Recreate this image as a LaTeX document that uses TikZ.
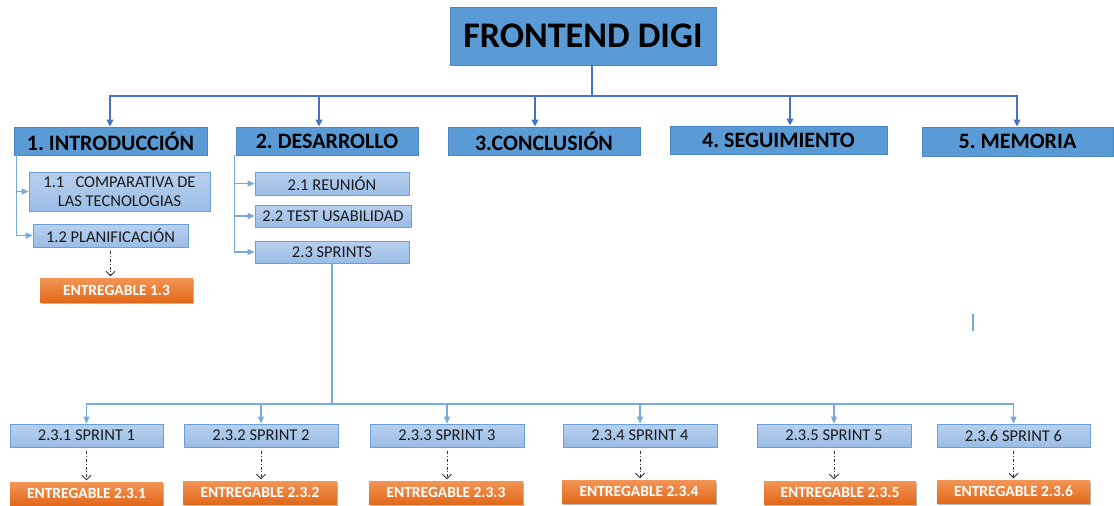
\documentclass[tikz,border=0pt]{standalone}
\usepackage{fontspec}
\setmainfont{Carlito}
\usetikzlibrary{arrows.meta,shadows}
\frenchspacing

\definecolor{headfill}{HTML}{5B9BD5}
\definecolor{headedge}{HTML}{4A86C5}
\definecolor{subtop}{HTML}{B8D0EE}
\definecolor{subbot}{HTML}{9ABDE6}
\definecolor{subedge}{HTML}{6A9FDB}
\definecolor{deltop}{HTML}{F29556}
\definecolor{delbot}{HTML}{E2691A}
\definecolor{trunkcol}{HTML}{4472C4}
\definecolor{branchcol}{HTML}{78AADF}
\definecolor{textdark}{HTML}{1A1A1A}

% box from corner (x1,y1) to corner (x2,y2), in pixel-like units
\newcommand\hdbox[7]{%
  \node[#1,minimum width={#5pt-#3pt},minimum height={#6pt-#4pt}]
    (#2) at ({(#3+#5)/2},{(#4+#6)/2}) {#7};}

\begin{document}
\begin{tikzpicture}[x=1pt,y=-1pt,
  rootbox/.style={fill=headfill,draw=headedge,line width=0.8pt,inner sep=0pt,
    text=black,font=\fontsize{36}{40}\selectfont\bfseries},
  phasebox/.style={fill=headfill,draw=headedge,line width=0.8pt,inner sep=0pt,
    text=black,font=\fontsize{22}{26}\selectfont\bfseries},
  taskbox/.style={top color=subtop,bottom color=subbot,draw=subedge,line width=0.6pt,
    inner sep=0pt,align=center,text=textdark,font=\fontsize{16.5}{19}\selectfont},
  delivbox/.style={top color=deltop,bottom color=delbot,draw=none,inner sep=0pt,
    text=white,font=\fontsize{15.5}{18}\selectfont\bfseries,
    drop shadow={shadow xshift=1.2pt,shadow yshift=-1.6pt,fill=black!45,opacity=0.6}},
  trunk/.style={draw=trunkcol,line width=1.8pt},
  trunktip/.style={trunk,-{Triangle[length=7pt,width=6.5pt]}},
  branch/.style={draw=branchcol,line width=1.1pt},
  branchtip/.style={branch,-{Triangle[length=7pt,width=6pt]}},
  deliv/.style={draw=black!80,line width=0.8pt,
    dash pattern=on 3pt off 1.8pt on 1pt off 1.8pt,
    -{Straight Barb[length=4.5pt,width=9pt]},shorten <=4pt,shorten >=1.5pt}]

\useasboundingbox (0,0) rectangle (1114,506);

% root and main phases
\hdbox{rootbox}{root}{450}{7}{716}{65}{FRONTEND DIGI}
\hdbox{phasebox}{intro}{14}{127}{207}{155}{1. INTRODUCCIÓN}
\hdbox{phasebox}{desa}{236}{127}{418}{155}{2. DESARROLLO}
\hdbox{phasebox}{concl}{448}{127}{640}{155}{3.CONCLUSIÓN}
\hdbox{phasebox}{segui}{670}{126}{887}{154}{4. SEGUIMIENTO}
\hdbox{phasebox}{memo}{922}{127}{1113}{156}{5. MEMORIA}

% tasks
\hdbox{taskbox}{t11}{29}{172}{210}{211}{1.1\ \ \ COMPARATIVA DE\\LAS TECNOLOGIAS}
\hdbox{taskbox}{t12}{33}{224}{188}{247}{1.2 PLANIFICACIÓN}
\hdbox{taskbox}{t21}{255}{172}{409}{195}{2.1 REUNIÓN}
\hdbox{taskbox}{t22}{255}{205}{411}{227}{2.2 TEST USABILIDAD}
\hdbox{taskbox}{t23}{255}{241}{409}{263}{2.3 SPRINTS}

\hdbox{delivbox}{e13}{40}{278}{193}{302}{ENTREGABLE 1.3}

% sprints
\hdbox{taskbox}{sp1}{10}{424}{163}{447}{2.3.1 SPRINT 1}
\hdbox{taskbox}{sp2}{184}{424}{338}{447}{2.3.2 SPRINT 2}
\hdbox{taskbox}{sp3}{370}{424}{524}{447}{2.3.3 SPRINT 3}
\hdbox{taskbox}{sp4}{563}{424}{717}{447}{2.3.4 SPRINT 4}
\hdbox{taskbox}{sp5}{757}{424}{911}{447}{2.3.5 SPRINT 5}
\hdbox{taskbox}{sp6}{937}{424}{1090}{447}{2.3.6 SPRINT 6}

\hdbox{delivbox}{e1}{10}{482}{163}{505}{ENTREGABLE 2.3.1}
\hdbox{delivbox}{e2}{183}{481}{337}{504}{ENTREGABLE 2.3.2}
\hdbox{delivbox}{e3}{369}{481}{523}{504}{ENTREGABLE 2.3.3}
\hdbox{delivbox}{e4}{562}{480}{716}{503}{ENTREGABLE 2.3.4}
\hdbox{delivbox}{e5}{764}{481}{916}{504}{ENTREGABLE 2.3.5}
\hdbox{delivbox}{e6}{937}{480}{1090}{503}{ENTREGABLE 2.3.6}

% root to phases
\coordinate (hub) at (592,96);
\draw[trunk] (root.south -| hub) -- (hub);
\draw[trunktip] (hub) -| ([xshift=-0.5pt]intro.north);
\draw[trunktip] (hub) -| ([xshift=-8pt]desa.north);
\draw[trunktip] (hub) -| ([xshift=-9pt]concl.north);
\draw[trunktip] (hub) -| ([xshift=11.5pt]segui.north);
\draw[trunktip] (hub) -| ([xshift=-0.5pt]memo.north);

% phase 1 tasks
\draw[branchtip] ([xshift=3pt]intro.south west) |- (t11.west);
\draw[branchtip] ([xshift=3pt]intro.south west) |- (t12.west);
\draw[deliv] (t12.south) -- (t12.south |- e13.north);

% phase 2 tasks
\draw[branchtip] ([xshift=-1pt]desa.south west) |- (t21.west);
\draw[branchtip] ([xshift=-1pt]desa.south west) |- (t22.west);
\draw[branchtip] ([xshift=-1pt]desa.south west) |- (t23.west);

% sprints
\coordinate (sjoin) at (332,404);
\draw[branch] (t23.south) -- (sjoin);
\foreach \s in {sp1,sp2,sp3,sp4,sp5,sp6}
  \draw[branchtip] (sjoin) -| (\s.north);

% sprint deliverables
\foreach \s/\e in {sp1/e1,sp2/e2,sp3/e3,sp4/e4,sp5/e5,sp6/e6}
  \draw[deliv] (\s.south) -- (\s.south |- \e.north);

% small vertical stroke on the right
\draw[branch] (973,314) -- (973,331);

\end{tikzpicture}
\end{document}
